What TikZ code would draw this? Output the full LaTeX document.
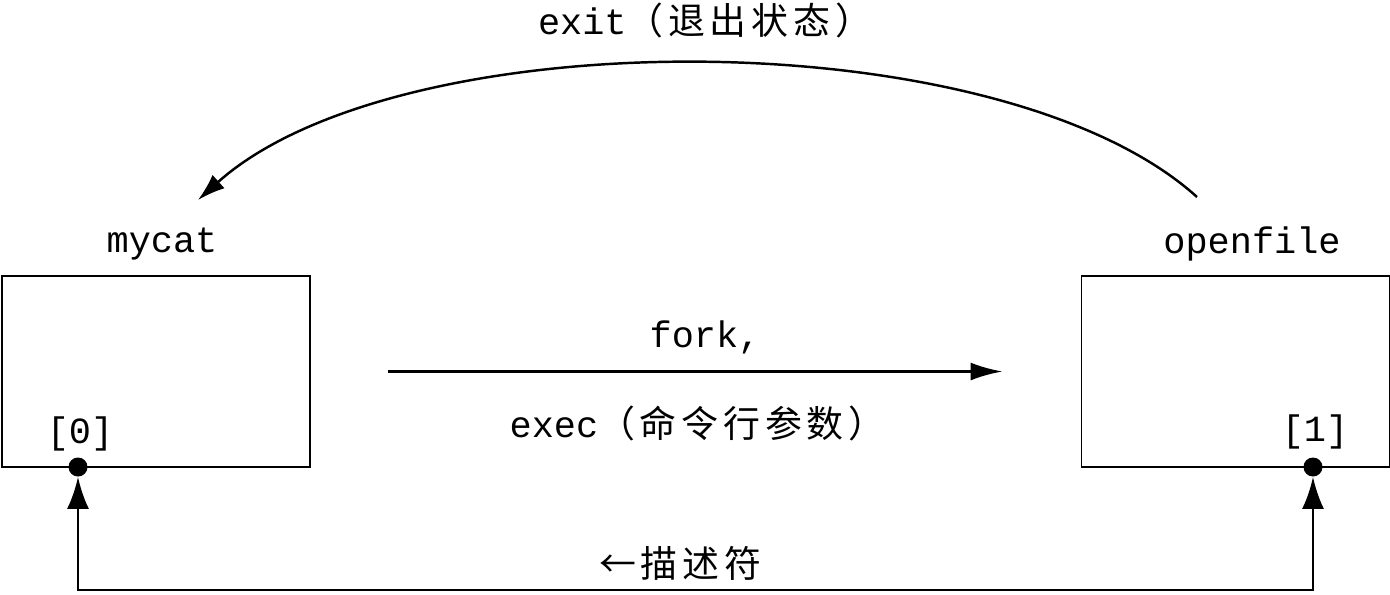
\documentclass[tikz,border=0pt]{standalone}
\usepackage{fontspec}
\setmonofont{Liberation Mono}
\newfontfamily\cjk[LetterSpace=13]{Noto Sans CJK SC}
\usetikzlibrary{arrows.meta}

\begin{document}
\begin{tikzpicture}[
		proc_style/.style={rectangle,draw=black,line width=1.1pt,minimum width=6.16cm,minimum height=3.82cm,inner sep=0pt},
		dot_style/.style={circle,fill=black,inner sep=0pt,minimum size=0.38cm},
		label_style/.style={font=\fontsize{21}{25}\selectfont\ttfamily,inner sep=1pt},
		edge_style/.style={draw=black,line width=1.6pt}]

		\useasboundingbox (0,0) rectangle (27.8,11.88);

		\node[proc_style] (mycat) at (3.12,4.45) {};
		\node[proc_style] (openfile) at (24.71,4.45) {};
		\node[label_style] (mycatname) at (3.24,7.0) {mycat};
		\node[label_style] (openname) at (25.04,7.0) {openfile};
		\node[label_style] (fd0) at (1.6,3.2) {[0]};
		\node[label_style] (fd1) at (26.3,3.24) {[1]};

		\node[dot_style] (d0) at (1.56,2.54) {};
		\node[dot_style] (d1) at (26.26,2.54) {};
		\coordinate (bot) at (14,0.08);

		\node[label_style] (fork) at (14.1,5.14) {fork,};
		\node[label_style] (exec) at (13.95,3.42) {exec{\cjk\fontsize{21}{25}\selectfont （命令行参数）}};
		\node[label_style] (exit) at (14.1,11.48) {exit{\cjk\fontsize{21}{25}\selectfont （退出状态）}};
		\node[label_style] (desc) at (13.6,0.62) {\cjk\fontsize{21}{25}\selectfont ←描述符};

		\coordinate (arcstart) at (23.94,7.94);
		\coordinate (arcend) at (3.96,7.88);

		% fork/exec
		\draw[edge_style,-{Latex[length=0.64cm,width=0.36cm]},shorten <=1.54cm,shorten >=1.56cm] (mycat.east) -- (openfile.west);
		% exit status
		\draw[edge_style,line width=1.4pt,-{Latex[length=0.55cm,width=0.36cm]}] (arcstart) .. controls (20,11.5) and (8,11.5) .. (arcend);
		% descriptor
		\draw[edge_style,{Latex[length=0.64cm,width=0.44cm]}-{Latex[length=0.64cm,width=0.44cm]}] (d0) |- (bot) -| (d1);

\end{tikzpicture}
\end{document}
